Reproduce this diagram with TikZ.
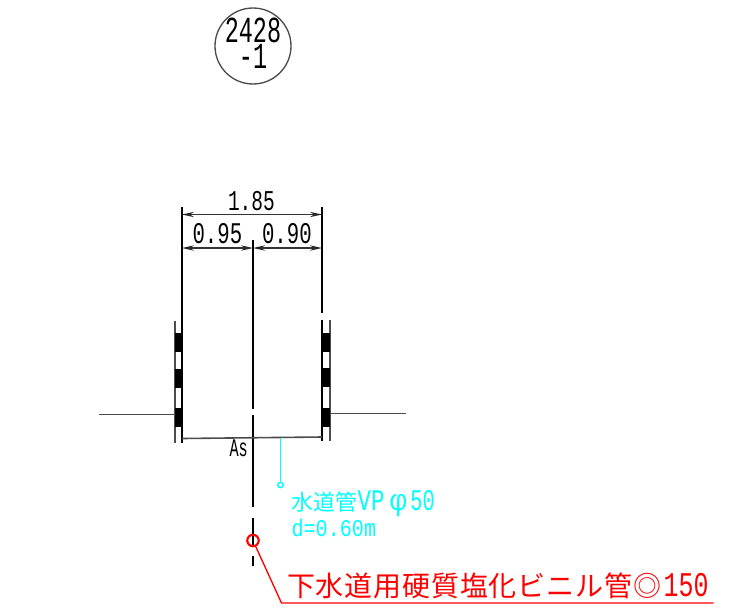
\documentclass[tikz,border=0pt]{standalone}
\usepackage{fontspec}
\usepackage{graphicx}
\usetikzlibrary{arrows.meta}
\setmainfont{Liberation Mono}
\newfontfamily\jpfont{Noto Sans CJK JP}
\newfontfamily\jpspaced[LetterSpace=3]{Noto Sans CJK JP}
\newcommand{\nar}[2]{\scalebox{#1}[1]{#2}}
\definecolor{cy}{RGB}{0,255,255}
\definecolor{rd}{RGB}{255,0,0}
\tikzset{
  x=0.75pt,y=-0.75pt,
  txt/.style={inner sep=0pt,outer sep=0pt,anchor=base west},
  blk/.style={line width=1pt,black},
  thin line/.style={line width=1.2pt,black!70},
  dim/.style={line width=1.1pt,black!80,{Stealth[length=9pt,width=4pt,color=black!85]}-{Stealth[length=9pt,width=4pt,color=black!85]}},
  block/.style={fill=black,draw=none},
  cyanline/.style={cy,line width=1pt},
  redline/.style={rd,line width=1pt},
}
\begin{document}
\begin{tikzpicture}
\useasboundingbox (0,0) rectangle (732,615);
% title circle
\node[draw=black!70,line width=1pt,circle,minimum size=57pt,inner sep=0pt] (tag) at (253,46) {};
\node[txt,anchor=center,align=center] (tagA) at (253,43.5) {\fontsize{27.5pt}{19.5pt}\selectfont\nar{0.64}{2428}\\[0pt]\fontsize{27.5pt}{19.5pt}\selectfont\nar{0.64}{-1}};
% coordinates
\coordinate (LT) at (182,207); \coordinate (LB) at (182,443);
\coordinate (RT) at (322,207); \coordinate (RM) at (322,313);
\coordinate (RU) at (322,320); \coordinate (RB) at (322,441);
\coordinate (CT) at (253,240); \coordinate (CA) at (253,409);
\coordinate (CB) at (253,415); \coordinate (CC) at (253,507);
\coordinate (CD) at (253,518); \coordinate (CE) at (253,546);
\coordinate (CF) at (253,556); \coordinate (CG) at (253,566);
\coordinate (OL1) at (175,321); \coordinate (OL2) at (175,443);
\coordinate (OR1) at (330,320); \coordinate (OR2) at (330,441);
% uprights
\draw[blk] (LT) -- (LB);
\draw[blk] (RT) -- (RM);
\draw[blk] (RU) -- (RB);
\draw[blk] (CT) -- (CA);
\draw[blk] (CB) -- (CC);
\draw[blk] (CD) -- (CE);
\draw[blk] (CF) -- (CG);
\draw[thin line] (OL1) -- (OL2);
\draw[thin line] (OR1) -- (OR2);
% dimension lines
\coordinate (DL1) at (182,214.5); \coordinate (DR1) at (322,214.5);
\coordinate (DL2) at (182,248); \coordinate (DM2) at (253,248); \coordinate (DR2) at (322,248);
\draw[dim] (DL1) -- (DR1);
\draw[dim] (DL2) -- (DM2);
\draw[dim] (DM2) -- (DR2);
\node[txt] (d185) at (228,210.5) {\fontsize{21.5pt}{21.5pt}\selectfont\nar{0.68}{1.85}};
\node[txt] (d095) at (192.5,243.5) {\fontsize{22.5pt}{22.5pt}\selectfont\nar{0.69}{0.95}};
\node[txt] (d090) at (262,243.5) {\fontsize{22.5pt}{22.5pt}\selectfont\nar{0.69}{0.90}};
% striped posts
\fill[block] (175,333) rectangle (182,352);
\fill[block] (175,369) rectangle (182,388);
\fill[block] (175,408) rectangle (182,427);
\fill[block] (322,333) rectangle (330,352);
\fill[block] (322,368) rectangle (330,387);
\fill[block] (322,408) rectangle (330,427);
% ground
\coordinate (GL1) at (98.5,414.5); \coordinate (GL2) at (175,414.5);
\coordinate (GR1) at (330,413.5); \coordinate (GR2) at (405.5,413.5);
\coordinate (PL) at (182,438.5); \coordinate (PR) at (322,437);
\draw[thin line] (GL1) -- (GL2);
\draw[thin line] (GR1) -- (GR2);
\draw[thin line] (PL) -- (PR);
\node[txt] (as) at (229.5,456.5) {\fontsize{19pt}{19pt}\selectfont\nar{0.6}{As}};
% water pipe note
\coordinate (WT) at (280.5,437.7);
\node[circle,draw=cy,line width=1.1pt,inner sep=0pt,minimum size=4pt] (WD) at (280.5,485) {};
\draw[cyanline] (WT) -- (WD);
\node[txt,text=cy] (w1) at (291.5,510) {\fontsize{16.5pt}{16.5pt}\selectfont{\jpfont 水道管}\fontsize{22.5pt}{22.5pt}\selectfont\nar{0.75}{VP}\hspace{4pt}\nar{0.95}{φ}\hspace{2.5pt}\nar{0.68}{50}};
\node[txt,text=cy] (w2) at (291.5,536) {\fontsize{18pt}{18pt}\selectfont\nar{0.84}{d=0.60m}};
% sewer pipe note
\node[circle,draw=rd,line width=1.6pt,inner sep=0pt,minimum size=8.6pt] (SP) at (253,540.5) {};
\coordinate (SK) at (281.5,603); \coordinate (SE) at (713.5,603);
\draw[redline] (SP) -- (SK) -- (SE);
\node[txt,text=rd] (s1) at (287,596) {\fontsize{21pt}{21pt}\selectfont{\jpspaced 下水道用硬質塩化ビニル管◎}\hspace{2pt}\fontsize{26pt}{26pt}\selectfont\nar{0.72}{150}};
\end{tikzpicture}
\end{document}
